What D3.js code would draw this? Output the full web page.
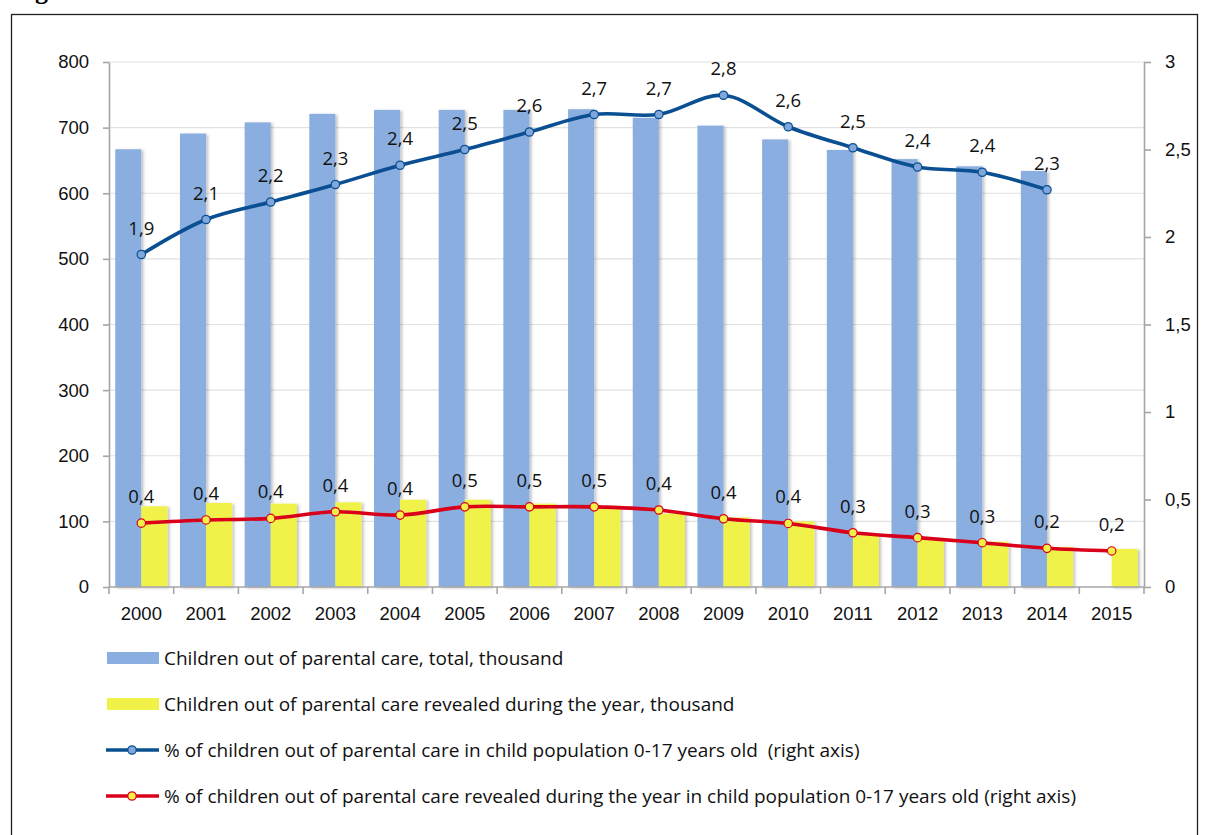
<!DOCTYPE html>
<html>
<head>
<meta charset="utf-8">
<script src="https://cdn.jsdelivr.net/npm/d3@7"></script>
<style>
  body { margin: 0; background: #fff; }
  svg { display: block; font-family: "Open Sans", "Noto Sans", sans-serif; }
</style>
</head>
<body>
<svg id="chart"></svg>
<script>
const years = ["2000","2001","2002","2003","2004","2005","2006","2007","2008","2009","2010","2011","2012","2013","2014","2015"];
// thousand, left axis
const totalThousand = [667, 691, 708, 721, 727, 727, 727, 728, 715, 703, 682, 666, 652, 641, 634, null];
const revealedThousand = [123, 128, 127, 129, 133, 133, 127, 122, 112, 106, 100, 79, 72, 69, 61, 58];
// percent, right axis
const pctTotal = [1.90, 2.10, 2.20, 2.30, 2.41, 2.50, 2.60, 2.70, 2.70, 2.81, 2.63, 2.51, 2.40, 2.37, 2.27];
const pctRevealed = [0.365, 0.383, 0.392, 0.43, 0.411, 0.458, 0.458, 0.458, 0.44, 0.39, 0.363, 0.31, 0.282, 0.253, 0.221, 0.206];
const leftTicks = [0, 100, 200, 300, 400, 500, 600, 700, 800];
const rightTicks = [0, 0.5, 1, 1.5, 2, 2.5, 3];
const legendLabels = [
  "Children out of parental care, total, thousand",
  "Children out of parental care revealed during the year, thousand",
  "% of children out of parental care in child population 0-17 years old  (right axis)",
  "% of children out of parental care revealed during the year in child population 0-17 years old (right axis)"
];

const width = 1208, height = 835;
const plotLeft = 109, plotRight = 1144, plotTop = 62, plotBottom = 587;
const fs = 18.5;

const colTotal = "#8aaee0", colRev = "#f0f24a";
const colBlueLine = "#0a4f91", colRedLine = "#d9001c";
const axisCol = "#a6a6a6", gridCol = "#e1e1e1";
const comma = v => d3.format(".1f")(v).replace(".", ",");

const svg = d3.select("#chart").attr("width", width).attr("height", height);
svg.append("rect").attr("width", width).attr("height", height).attr("fill", "#fff");

const defs = svg.append("defs");
defs.append("filter").attr("id", "shadow")
  .attr("x", "-20%").attr("y", "-5%").attr("width", "150%").attr("height", "110%")
  .append("feDropShadow")
  .attr("dx", 2).attr("dy", 1).attr("stdDeviation", 1.4)
  .attr("flood-color", "#000").attr("flood-opacity", 0.25);

// heading above the frame, cropped in the source picture
svg.append("text").attr("x", 12).attr("y", -1)
  .attr("font-family", "Liberation Serif, serif").attr("font-weight", "bold")
  .attr("font-size", 26).text("Figure");
svg.append("rect").attr("x", 11.5).attr("y", 14.5).attr("width", 1186).attr("height", 840)
  .attr("fill", "none").attr("stroke", "#231f20").attr("stroke-width", 1.3);

const x = d3.scaleBand().domain(years).range([plotLeft, plotRight]);
const xSub = d3.scaleBand().domain(["total", "revealed"]).range([0, x.bandwidth()])
  .paddingInner(0).paddingOuter(0.24);
const yL = d3.scaleLinear().domain([0, 800]).range([plotBottom, plotTop]);
const yR = d3.scaleLinear().domain([0, 3]).range([plotBottom, plotTop]);

// gridlines
svg.append("g").selectAll("line").data(leftTicks.slice(1)).join("line")
  .attr("x1", plotLeft).attr("x2", plotRight)
  .attr("y1", d => yL(d)).attr("y2", d => yL(d))
  .attr("stroke", gridCol).attr("stroke-width", 1.2);

// bars
const bars = svg.append("g").attr("filter", "url(#shadow)");
bars.selectAll("rect.total").data(years.filter((y, i) => totalThousand[i] != null)).join("rect")
  .attr("class", "total")
  .attr("x", d => x(d) + xSub("total"))
  .attr("width", xSub.bandwidth())
  .attr("y", d => yL(totalThousand[years.indexOf(d)]))
  .attr("height", d => yL(0) - yL(totalThousand[years.indexOf(d)]))
  .attr("fill", colTotal);
bars.selectAll("rect.rev").data(years).join("rect")
  .attr("class", "rev")
  .attr("x", d => x(d) + xSub("revealed"))
  .attr("width", xSub.bandwidth())
  .attr("y", (d, i) => yL(revealedThousand[i]))
  .attr("height", (d, i) => yL(0) - yL(revealedThousand[i]))
  .attr("fill", colRev);

// axes
const styleAxis = g => {
  g.select(".domain").attr("stroke", axisCol).attr("stroke-width", 1.6);
  g.selectAll(".tick line").attr("stroke", axisCol).attr("stroke-width", 1.6);
  g.selectAll("text").attr("fill", "#111").attr("font-size", fs);
};
svg.append("g").attr("transform", `translate(${plotLeft},0)`)
  .call(d3.axisLeft(yL).tickValues(leftTicks).tickSize(6).tickSizeOuter(0).tickPadding(14))
  .call(styleAxis);
svg.append("g").attr("transform", `translate(${plotRight},0)`)
  .call(d3.axisRight(yR).tickValues(rightTicks).tickSize(7).tickSizeOuter(0).tickPadding(14)
    .tickFormat(d => String(d).replace(".", ",")))
  .call(styleAxis);
const xAxis = svg.append("g").attr("transform", `translate(0,${plotBottom})`)
  .call(d3.axisBottom(x).tickSize(0).tickSizeOuter(0).tickPadding(20))
  .call(styleAxis);
xAxis.select(".domain").attr("d", `M${plotLeft},0H${plotRight}`);
xAxis.selectAll(".tick-sep").data(years.map(d => x(d)).concat([x.range()[1]])).join("line")
  .attr("class", "tick-sep")
  .attr("x1", d => d).attr("x2", d => d).attr("y1", 0).attr("y2", 7)
  .attr("stroke", axisCol).attr("stroke-width", 1.6);

// lines
const cx = i => x(years[i]) + x.bandwidth() / 2;
const line = d3.line().x((d, i) => cx(i)).y(d => yR(d)).curve(d3.curveCatmullRom.alpha(0.5));

function series(values, stroke, fill) {
  const g = svg.append("g");
  g.append("path").attr("d", line(values)).attr("fill", "none")
    .attr("stroke", stroke).attr("stroke-width", 3.6).attr("stroke-linejoin", "round");
  g.selectAll("circle").data(values).join("circle")
    .attr("cx", (d, i) => cx(i)).attr("cy", d => yR(d)).attr("r", 4.2)
    .attr("fill", fill).attr("stroke", stroke).attr("stroke-width", 1.2);
  g.selectAll("text").data(values).join("text")
    .attr("x", (d, i) => cx(i)).attr("y", d => yR(d) - 20)
    .attr("text-anchor", "middle").attr("font-size", fs).attr("fill", "#111")
    .text(d => comma(d));
}
series(pctTotal, colBlueLine, "#7fa7db");
series(pctRevealed, colRedLine, "#f3f04a");

// legend
const legendY = [658, 704, 750, 796];
const lg = svg.append("g");
lg.append("rect").attr("x", 107).attr("y", legendY[0] - 6).attr("width", 52).attr("height", 12).attr("fill", colTotal);
lg.append("rect").attr("x", 107).attr("y", legendY[1] - 6).attr("width", 52).attr("height", 12).attr("fill", colRev);
[[colBlueLine, "#7fa7db"], [colRedLine, "#f3f04a"]].forEach(([s, f], k) => {
  const yy = legendY[k + 2];
  lg.append("line").attr("x1", 106).attr("x2", 159).attr("y1", yy).attr("y2", yy)
    .attr("stroke", s).attr("stroke-width", 3.6);
  lg.append("circle").attr("cx", 132).attr("cy", yy).attr("r", 4.2)
    .attr("fill", f).attr("stroke", s).attr("stroke-width", 1.2);
});
lg.selectAll("text").data(legendLabels).join("text")
  .attr("x", 164).attr("y", (d, i) => legendY[i] + 7)
  .attr("font-size", 19).attr("fill", "#111").style("white-space", "pre")
  .text(d => d);
</script>
</body>
</html>
